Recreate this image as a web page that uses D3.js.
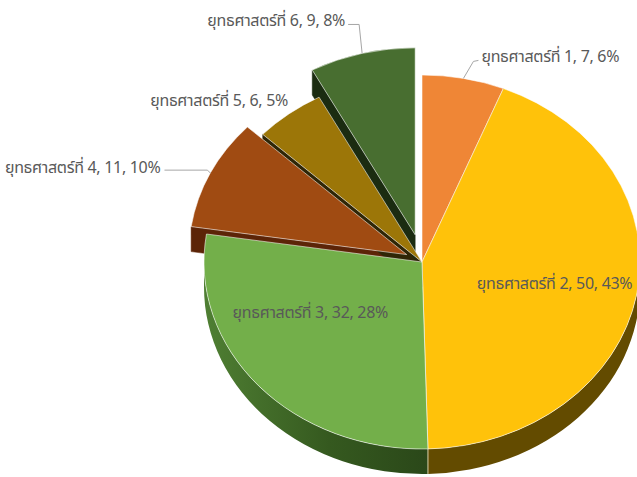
<!DOCTYPE html>
<html><head><meta charset="utf-8">
<script src="https://cdn.jsdelivr.net/npm/d3@7/dist/d3.min.js"></script>
<style>body{margin:0;background:#fff} svg{display:block}</style>
</head><body>
<svg id="chart" width="637" height="477"></svg>
<script>
// ---- data ----
const categories = ["ยุทธศาสตร์ที่ 1","ยุทธศาสตร์ที่ 2","ยุทธศาสตร์ที่ 3","ยุทธศาสตร์ที่ 4","ยุทธศาสตร์ที่ 5","ยุทธศาสตร์ที่ 6"];
const values = [7, 50, 32, 11, 6, 9];

// ---- style ----
const topColors  = ["#EF8636","#FFC20A","#73AF4A","#A04B12","#9C7608","#486E30"];
const wallColors = ["#8a4618","#634b00","url(#gside)","#5c2407","#2f2606","#1b2c11"];
const explode    = [0, 0, 0, 17, 0, 28];
// label layout: inside -> polar position; outside -> offsets from arc midpoint
const labelLayout = [
  {kind:"out", anchor:"start", tx:18, ty:-16, leader:[[0,0],[10,-17],[15,-18]]},
  {kind:"in", r:0.62, shift:1},
  {kind:"in", r:0.58, shift:13.5},
  {kind:"out", anchor:"end", tx:-50, ty:0, leader:[[0,0],[-3,-3],[-46,-3]]},
  {kind:"out", anchor:"end", tx:-1, ty:-8, leader:null},
  {kind:"out", anchor:"end", tx:-17, ty:-27, leader:[[0,0],[-3,-29],[-14,-29]]}
];

const W = 637, H = 477;
const cx = 422, cy = 262, rx = 218, ry = 187, depth = 25;
const total = d3.sum(values);

const svg = d3.select("#chart");
const defs = svg.append("defs");
const g = defs.append("linearGradient").attr("id","gside")
  .attr("gradientUnits","userSpaceOnUse")
  .attr("x1", cx - rx).attr("y1", 0).attr("x2", cx + 10).attr("y2", 0);
g.append("stop").attr("offset","0").attr("stop-color","#4f7f33");
g.append("stop").attr("offset","0.55").attr("stop-color","#35591f");
g.append("stop").attr("offset","1").attr("stop-color","#2a4719");

const arcs = d3.pie().sort(null).value(d => d)(values);

function off(i){
  const a = (arcs[i].startAngle + arcs[i].endAngle)/2, d = explode[i];
  return {x: d*Math.sin(a), y: -d*Math.cos(a)};
}
function pt(a, r, o, z=0){
  return [cx + o.x + r*rx*Math.sin(a), cy + o.y - r*ry*Math.cos(a) + z];
}
const fmt = p => p[0].toFixed(2)+","+p[1].toFixed(2);

const wallsG = svg.append("g");
const topsG = svg.append("g");

arcs.forEach((d,i) => {
  const o = off(i), a0 = d.startAngle, a1 = d.endAngle;
  const c = pt(0,0,o), cb = pt(0,0,o,depth);
  [[a0, a0 - Math.PI/2],[a1, a1 + Math.PI/2]].forEach(([a,n]) => {
    if (Math.cos(n) < -0.05) {
      wallsG.append("path")
        .attr("d", `M${fmt(c)}L${fmt(pt(a,1,o))}L${fmt(pt(a,1,o,depth))}L${fmt(cb)}Z`)
        .attr("fill", wallColors[i]).attr("stroke", wallColors[i]).attr("stroke-width",0.5);
    }
  });
  const s = Math.max(a0, Math.PI/2), e = Math.min(a1, 3*Math.PI/2);
  if (s < e) {
    wallsG.append("path")
      .attr("d", `M${fmt(pt(s,1,o))}A${rx},${ry} 0 0 1 ${fmt(pt(e,1,o))}L${fmt(pt(e,1,o,depth))}A${rx},${ry} 0 0 0 ${fmt(pt(s,1,o,depth))}Z`)
      .attr("fill", wallColors[i]);
  }
  const large = (a1 - a0) > Math.PI ? 1 : 0;
  topsG.append("path")
    .attr("d", `M${fmt(c)}L${fmt(pt(a0,1,o))}A${rx},${ry} 0 ${large} 1 ${fmt(pt(a1,1,o))}Z`)
    .attr("fill", topColors[i])
    .attr("stroke", "#fff").attr("stroke-opacity", 0.55).attr("stroke-width", 1)
    .attr("stroke-linejoin","round");
});

{
  const a = arcs[1].endAngle, o = off(1);
  wallsG.append("line")
    .attr("x1", pt(a,1,o)[0]).attr("y1", pt(a,1,o)[1])
    .attr("x2", pt(a,1,o,depth)[0]).attr("y2", pt(a,1,o,depth)[1])
    .attr("stroke","#d8cfa8").attr("stroke-width",1);
}

const labG = svg.append("g")
  .style("font-family", "'Noto Sans Thai','Tahoma','Leelawadee UI','DejaVu Sans','Noto Sans',sans-serif")
  .style("font-size", "16px").attr("fill", "#595959");

arcs.forEach((d,i) => {
  const L = labelLayout[i], o = off(i);
  const txt = `${categories[i]}, ${values[i]}, ${Math.round(values[i]/total*100)}%`;
  const mid = (d.startAngle + d.endAngle)/2;
  if (L.kind === "in") {
    const p = pt(mid + L.shift*Math.PI/180, L.r, o);
    labG.append("text").attr("x", p[0]).attr("y", p[1])
      .attr("text-anchor","middle").attr("dominant-baseline","central")
      .attr("letter-spacing", "-0.3px").text(txt);
  } else {
    const m = pt(mid, 1, o);
    if (L.leader) {
      labG.append("polyline")
        .attr("points", L.leader.map(q => (m[0]+q[0])+","+(m[1]+q[1])).join(" "))
        .attr("fill","none").attr("stroke","#a6a6a6").attr("stroke-width",1);
    }
    labG.append("text").attr("x", m[0]+L.tx).attr("y", m[1]+L.ty)
      .attr("text-anchor", L.anchor).attr("letter-spacing", "-0.3px").text(txt);
  }
});
</script>
</body></html>
